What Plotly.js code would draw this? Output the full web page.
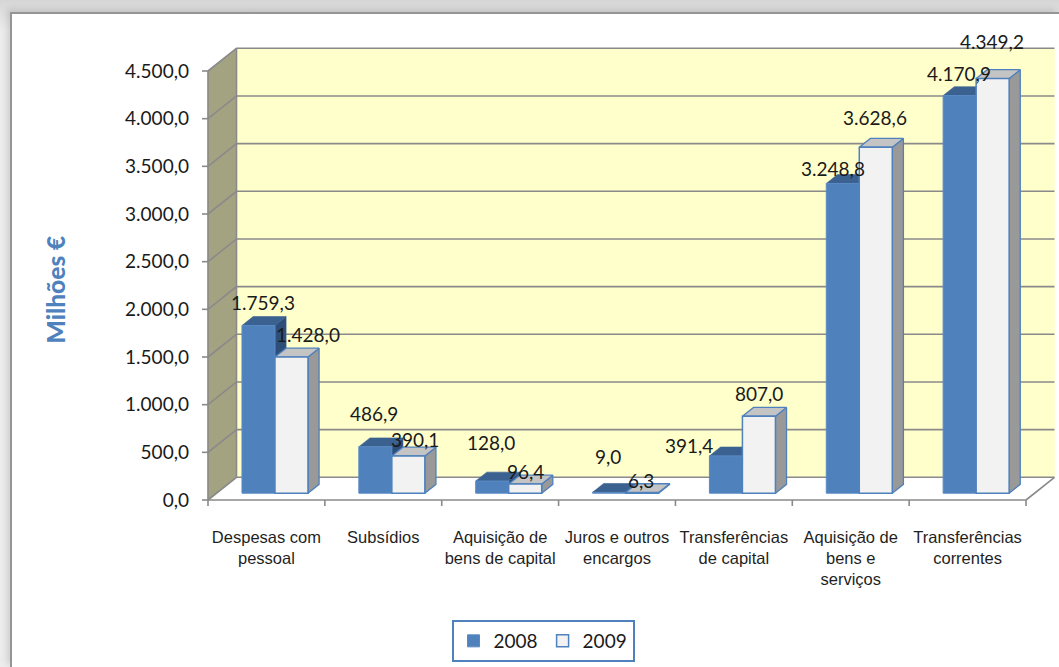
<!DOCTYPE html>
<html><head><meta charset="utf-8">
<script src="https://cdn.plot.ly/plotly-3.0.1.min.js"></script>
<style>
html,body{margin:0;padding:0;width:1059px;height:667px;overflow:hidden;background:linear-gradient(#d6d6d6,#ececec 30px);}
#frame{position:absolute;left:10px;top:12px;width:1049px;height:655px;border-left:2px solid #959595;border-top:2px solid #959595;background:#fff;box-sizing:border-box;box-shadow:-3px -3px 6px rgba(0,0,0,0.12);}
#chart{width:1047px;height:653px;}
</style></head><body><div id="frame"><div id="chart"></div></div>
<script>
// ---- data ----
const categories = ['Despesas com<br>pessoal','Subsídios','Aquisição de<br>bens de capital','Juros e outros<br>encargos','Transferências<br>de capital','Aquisição de<br>bens e<br>serviços','Transferências<br>correntes'];
const seriesNames = ['2008','2009'];
const values2008 = [1759.3, 486.9, 128.0, 9.0, 391.4, 3248.8, 4170.9];
const values2009 = [1428.0, 390.1, 96.4, 6.3, 807.0, 3628.6, 4349.2];
const yTickValues = [0,500,1000,1500,2000,2500,3000,3500,4000,4500];
const yAxisTitle = 'Milhões €';

// ---- label nudges (px, Excel's automatic label placement) ----
const labelNudge2008 = [[5,23],[-1,33],[-1,38],[-1,36],[-37,10],[-10,15],[-1,22]];
const labelNudge2009 = [[17,23],[7,17],[0,13],[-1,12],[0,23],[-1,30],[-1,37]];

// ---- geometry (page px) ----
const ORX = 12, ORY = 14;            // chart div content origin
const X0PX = 208, PXX = 116.86;      // x=0 on front plane, px per category
const Y0PX = 500, PXY = 429/4500;    // value 0 on front plane, px per unit
const PL = 200, PR = 1059, PT = 36, PB = 507; // plot area
const xr = [(PL-X0PX)/PXX, (PR-X0PX)/PXX];
const yr = [(Y0PX-PB)/PXY, (Y0PX-PT)/PXY];
const DX = 28.5/PXX, DY = 22.7/PXY;  // wall depth
const BW = 33/PXX;                   // bar width
const GAP = (1-2*BW)/2;
const F0 = 0.3, F1 = 0.69;           // bar depth position
const N = categories.length;
const YMAX = yTickValues[yTickValues.length-1];
const paperX = px => (px-PL)/(PR-PL);
const paperY = py => (PB-py)/(PB-PT);

const fmt = v => {
  const s = v.toFixed(1).split('.');
  return s[0].replace(/\B(?=(\d{3})+(?!\d))/g,'.') + ',' + s[1];
};

const traces = [];
const GRID = '#8a8a8a';
function poly(xs, ys, fill, line, lw, z){
  traces.push({type:'scatter',mode:'lines',x:xs,y:ys,fill:'toself',fillcolor:fill,
    line:{color:line,width:lw},hoverinfo:'skip',showlegend:false,zorder:z});
}
function lines(xs, ys, color, lw, z){
  traces.push({type:'scatter',mode:'lines',x:xs,y:ys,line:{color:color,width:lw},
    hoverinfo:'skip',showlegend:false,zorder:z,connectgaps:false});
}
// walls and floor
poly([0,0,DX,DX],[0,YMAX,YMAX+DY,DY],'#a3a281','#a3a281',0.5,0);
poly([DX,DX,N+DX,N+DX],[DY,YMAX+DY,YMAX+DY,DY],'#ffffcc','#ffffcc',0.5,0);
poly([0,N,N+DX,DX],[0,0,DY,DY],'#ffffff','#ffffff',0.5,0);
// gridlines
{
  const gx=[],gy=[];
  yTickValues.forEach(v=>{gx.push(0,DX,N+DX,null);gy.push(v,v+DY,v+DY,null);});
  gx.push(DX,DX,null); gy.push(DY,YMAX+DY,null);
  gx.push(N,N+DX,null); gy.push(0,DY,null);
  gx.push(0,0,null); gy.push(0,YMAX,null);
  gx.push(0,N,null); gy.push(0,0,null);
  // tick marks
  const tl = 6/PXY, tx = 6/PXX;
  yTickValues.forEach(v=>{gx.push(-tx,0,null);gy.push(v,v,null);});
  for(let i=0;i<=N;i++){gx.push(i,i,null);gy.push(0,-tl,null);}
  lines(gx,gy,GRID,1.6,0);
}
// bars
const series = [values2008, values2009];
const style = [
  {front:'#4f81bd', frontLine:'#5a8ac4', top:'#3b6190', side:'#2d4e78', edge:'#3b6190', ew:0.6},
  {front:'#f2f2f2', frontLine:'#4f81bd', top:'#c4c4c4', side:'#999999', edge:'#4f81bd', ew:1.3}
];
const ddx = (F1-F0)*DX, ddy = (F1-F0)*DY, base = F0*DY;
series.forEach((vals, j)=>{
  const tx=[],ty=[],sx=[],sy=[],cx=[];
  vals.forEach((v,i)=>{
    const l = i + GAP + j*BW + F0*DX, r = l + BW, t = base + v;
    cx.push(l + BW/2);
    tx.push(l,r,r+ddx,l+ddx,l,null); ty.push(t,t,t+ddy,t+ddy,t,null);
    sx.push(r,r,r+ddx,r+ddx,r,null); sy.push(base,t,t+ddy,base+ddy,base,null);
  });
  poly(sx,sy,style[j].side,style[j].edge,style[j].ew,1+2*j);
  poly(tx,ty,style[j].top,style[j].edge,style[j].ew,1+2*j);
  traces.push({type:'bar',name:seriesNames[j],x:cx,y:vals,base:base,width:BW,
    marker:{color:style[j].front,line:{color:style[j].frontLine,width:j?1.5:1}},
    hoverinfo:'skip',zorder:2+2*j,showlegend:true});
});

// data labels
const annotations = [];
series.forEach((vals,j)=>{
  const nud = j ? labelNudge2009 : labelNudge2008;
  vals.forEach((v,i)=>{
    annotations.push({x:i+GAP+j*BW+F0*DX+BW/2,y:base+v,xref:'x',yref:'y',text:fmt(v),
      showarrow:false,xanchor:'center',yanchor:'middle',xshift:nud[i][0],yshift:nud[i][1],
      font:{family:'Lato, sans-serif',size:19,color:'#1a1a1a'}});
  });
});
annotations.push({text:yAxisTitle,textangle:-90,xref:'paper',yref:'paper',
  x:paperX(54.5),y:paperY(290),xanchor:'center',yanchor:'middle',showarrow:false,
  font:{family:'Lato, sans-serif',size:24.5,weight:900,color:'#4f81bd'}});

const layout = {
  width:1047,height:653,
  margin:{l:PL-ORX,r:1047-(PR-ORX),t:PT-ORY,b:653-(PB-ORY),pad:0},
  paper_bgcolor:'#ffffff',plot_bgcolor:'rgba(0,0,0,0)',
  separators:',.',
  barmode:'overlay',
  showlegend:true,
  xaxis:{range:xr,showgrid:false,zeroline:false,showline:false,ticks:'',
    tickvals:categories.map((c,i)=>i+0.5),ticktext:categories,tickangle:0,
    ticklabelstandoff:18,
    tickfont:{family:'"Liberation Sans", Arial, sans-serif',size:16.5,color:'#1f1f1f'}},
  yaxis:{range:yr,showgrid:false,zeroline:false,showline:false,ticks:'',
    tickvals:yTickValues,tickformat:',.1f',ticklabelstandoff:10,
    tickfont:{family:'Lato, sans-serif',size:19,color:'#1a1a1a'}},
  legend:{orientation:'h',x:paperX(543),xanchor:'center',y:paperY(620),yanchor:'top',
    bordercolor:'#4f81bd',borderwidth:2,bgcolor:'#ffffff',
    font:{family:'Lato, sans-serif',size:19,color:'#1a1a1a'},traceorder:'normal'},
  annotations:annotations
};
Plotly.newPlot('chart',traces,layout,{displayModeBar:false,staticPlot:true});
</script></body></html>
